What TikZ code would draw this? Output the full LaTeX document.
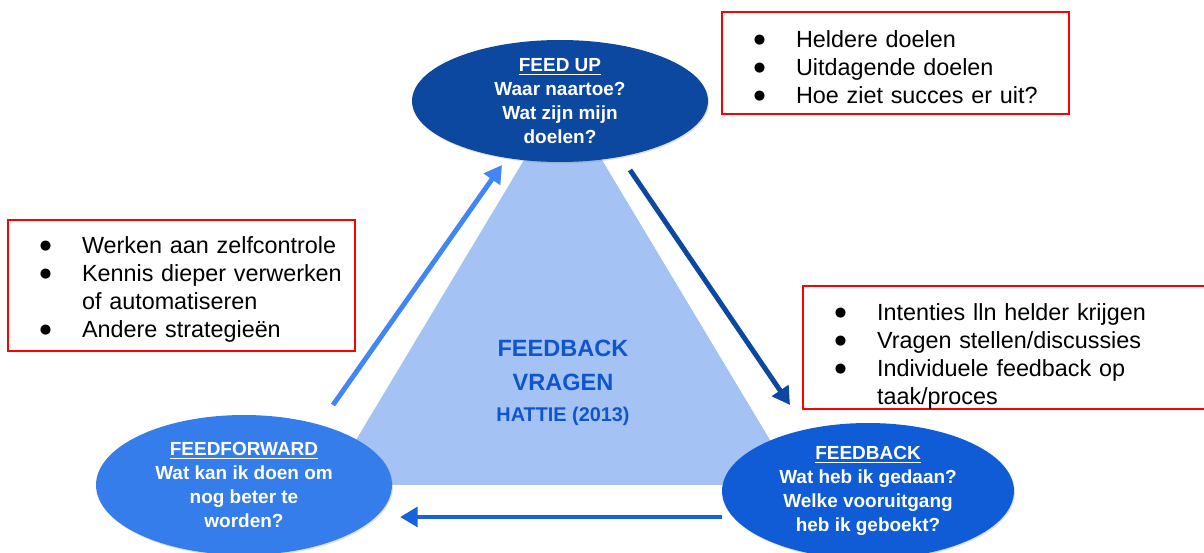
\documentclass[tikz,border=0pt]{standalone}
\usepackage{fontspec}
\setmainfont{Liberation Sans}
\newfontfamily\bolfont{DejaVu Sans}
\usepackage{tikz}
\usetikzlibrary{arrows.meta}
\usetikzlibrary{positioning,shapes,shadows}
\usepackage{xcolor}
\definecolor{upblue}{RGB}{12,71,160}
\definecolor{backblue}{RGB}{16,92,214}
\definecolor{forwardblue}{RGB}{52,125,234}
\definecolor{trianglefill}{RGB}{164,194,244}
\definecolor{kernblue}{RGB}{17,85,204}
\definecolor{tipred}{RGB}{255,0,0}
\newcommand{\blt}[1]{\mbox{\makebox[0.86cm][l]{\hspace*{0.5pt}\raisebox{2.3pt}{\bolfont\fontsize{7.5pt}{9pt}\selectfont ●}}#1}}
\newcommand{\bcont}[1]{\mbox{\hspace*{0.86cm}#1}}
\newcommand{\topstrut}[1]{\rule{0pt}{#1}}

\begin{document}
\begin{tikzpicture}[x=0.02cm, y=-0.02cm]
  % Define styles for the picture
  \tikzset{
    vraag/.style={
      ellipse,
      inner sep=0pt,
      text=white,
      align=center,
      font=\bfseries\fontsize{10.8pt}{13.6pt}\selectfont,
      drop shadow={opacity=0.25, shadow xshift=0.6pt, shadow yshift=-0.8pt}
    },
    tips/.style={
      draw=tipred,
      line width=1.2pt,
      inner xsep=0.62cm,
      inner ysep=0pt,
      align=left,
      font=\fontsize{13.3pt}{15.9pt}\selectfont
    },
    pijl/.style={
      line width=2.8pt,
      -{Triangle[length=10pt, width=11pt]}
    }
  }
  \useasboundingbox (0,0) rectangle (1204,553);

  % Triangle behind everything
  \fill[trianglefill] (563,95) -- (329,485) -- (797,485) -- cycle;

  % Centre text
  \node[font=\bfseries\fontsize{13.4pt}{19.3pt}\selectfont, text=kernblue, align=center] (kern) at (563,365) {FEEDBACK\\VRAGEN};
  \node[font=\bfseries\fontsize{11.3pt}{13pt}\selectfont, text=kernblue] (bron) at (563,416) {HATTIE (2013)};

  % Arrow ends
  \coordinate (naarUpA) at (333,405);
  \coordinate (naarUpB) at (502,165);
  \coordinate (naarBackA) at (630,170);
  \coordinate (naarBackB) at (790,405);
  \coordinate (naarFwdA) at (722,517);
  \coordinate (naarFwdB) at (400,517);

  \draw[pijl, draw={rgb,255:red,66;green,133;blue,244}] (naarUpA) -- (naarUpB);
  \draw[pijl, draw=upblue] (naarBackA) -- (naarBackB);
  \draw[pijl, draw={rgb,255:red,22;green,98;blue,220}] (naarFwdA) -- (naarFwdB);

  % The three questions
  \node[vraag, fill=upblue, minimum width=5.92cm, minimum height=2.44cm] (feedup) at (560,101)
    {\underline{FEED UP}\\Waar naartoe?\\Wat zijn mijn\\doelen?};
  \node[vraag, fill=forwardblue, minimum width=5.92cm, minimum height=2.8cm] (feedforward) at (244,485)
    {\underline{FEEDFORWARD}\\Wat kan ik doen om\\nog beter te\\worden?};
  \node[vraag, fill=backblue, minimum width=5.84cm, minimum height=2.72cm] (feedback) at (868,491)
    {\underline{FEEDBACK}\\Wat heb ik gedaan?\\Welke vooruitgang\\heb ik geboekt?};

  % Boxes with tips
  \node[tips, minimum width=6.94cm, minimum height=2.04cm, text width=5.7cm] (tipsUp) at (895.5,63)
    {\topstrut{14pt}\blt{Heldere doelen}\\\blt{Uitdagende doelen}\\\blt{Hoe ziet succes er uit?}};
  \node[tips, minimum width=6.94cm, minimum height=2.62cm, text width=5.7cm] (tipsForward) at (181.5,285.5)
    {\topstrut{14pt}\blt{Werken aan zelfcontrole}\\\blt{Kennis dieper verwerken}\\\bcont{of automatiseren}\\\blt{Andere strategieën}};
  \node[tips, minimum width=8.24cm, minimum height=2.46cm, text width=7cm] (tipsBack) at (1009,347.5)
    {\topstrut{19.5pt}\blt{Intenties lln helder krijgen}\\\blt{Vragen stellen/discussies}\\\blt{Individuele feedback op}\\\bcont{taak/proces}};
\end{tikzpicture}
\end{document}
